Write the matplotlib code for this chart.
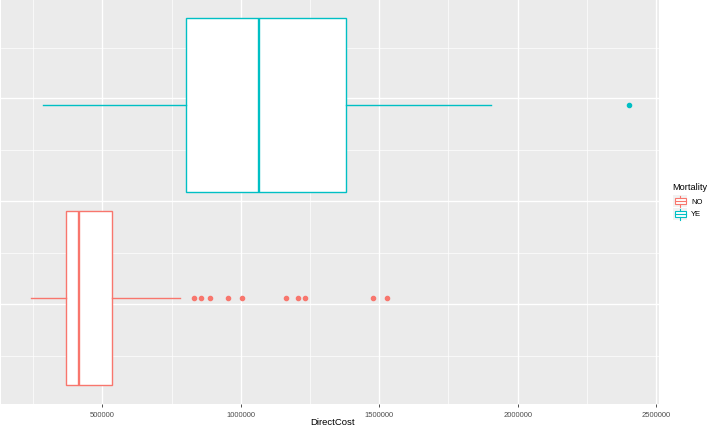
import matplotlib
matplotlib.use("Agg")
import matplotlib.pyplot as plt
from matplotlib.patches import Rectangle

# ── data ──
groups  = ["NO", "YE"]
colors  = {"NO": "#F8766D", "YE": "#00BFC4"}
whislo  = [242000, 287000]
q1      = [370000, 803000]
median  = [416000, 1067000]
q3      = [536000, 1379000]
whishi  = [781000, 1904000]
fliers  = [
    [830000, 856000, 888000, 953000, 1005000, 1165000, 1208000, 1231000, 1477000, 1527000],
    [2403000],
]
xticks = [500000, 1000000, 1500000, 2000000, 2500000]
xlabel = "DirectCost"
legend_title = "Mortality"

plt.rcParams.update({"font.family": "Liberation Sans"})

W, H = 708, 427
fig = plt.figure(figsize=(W / 100, H / 100), dpi=100)
ax = fig.add_axes([1 / W, (H - 404.7) / H, (659.3 - 1) / W, 404.7 / H])
ax.set_facecolor("#EBEBEB")
for s in ax.spines.values():
    s.set_visible(False)

# axis ranges
px_per = 138.45 / 500000
x0 = 500000 - 101.3 / px_per
x1 = 500000 + (659.3 - 102.3) / px_per
ax.set_xlim(x0, x1)
ax.set_ylim(0.452, 2.549)

# grid
for v in [250000, 750000, 1250000, 1750000, 2250000]:
    ax.axvline(v, color="white", lw=0.5, zorder=0)
for v in xticks:
    ax.axvline(v, color="white", lw=1.0, zorder=0)
for v in [0.699, 1.233, 1.767, 2.295]:
    ax.axhline(v, color="white", lw=0.5, zorder=0)
for v in [0.969, 1.503, 2.036]:
    ax.axhline(v, color="white", lw=1.0, zorder=0)

stats = []
for i, g in enumerate(groups):
    stats.append(dict(med=median[i], q1=q1[i], q3=q3[i],
                      whislo=whislo[i], whishi=whishi[i], fliers=fliers[i]))

for i, g in enumerate(groups):
    c = colors[g]
    ax.bxp([stats[i]], positions=[i + 1], widths=0.9, orientation="horizontal",
           patch_artist=True, showcaps=False,
           boxprops=dict(facecolor="white", edgecolor=c, lw=1.0),
           whiskerprops=dict(color=c, lw=1.0),
           medianprops=dict(color=c, lw=1.7),
           flierprops=dict(marker="o", markerfacecolor=c, markeredgecolor=c,
                           markersize=3.0, lw=0),
           manage_ticks=False, zorder=2)

ax.set_xticks(xticks)
ax.set_xticklabels([str(v) for v in xticks])
ax.set_yticks([])
ax.tick_params(axis="x", length=2.5, width=0.6, color="#333333",
               labelsize=5.5, labelcolor="#4D4D4D", pad=2.5)
fig.text(333 / W, 1 - 422.5 / H, xlabel, fontsize=6.8, color="black",
         ha="center", va="center")

# ── legend, drawn in pixel coordinates ──
lg = fig.add_axes([666 / W, (H - 225) / H, 42 / W, 47 / H])
lg.set_xlim(666, 708)
lg.set_ylim(225, 178)
lg.axis("off")
lg.text(672.5, 188, legend_title, fontsize=6.6, va="center", ha="left")
for i, g in enumerate(groups):
    cy = 202 + 13 * i
    c = colors[g]
    lg.add_patch(Rectangle((673, cy - 6.3), 14, 12.6, facecolor="#F2F2F2",
                           edgecolor="none"))
    lg.add_patch(Rectangle((674.5, cy - 3), 11, 6, facecolor="white",
                           edgecolor=c, lw=0.8))
    lg.plot([674.5, 685.5], [cy, cy], color=c, lw=0.8)
    lg.plot([680, 680], [cy - 3, cy - 5.5], color=c, lw=0.8)
    lg.plot([680, 680], [cy + 3, cy + 5.5], color=c, lw=0.8)
    lg.text(691, cy, g, fontsize=5.5, va="center", ha="left")

fig.savefig("out.png", dpi=100)
